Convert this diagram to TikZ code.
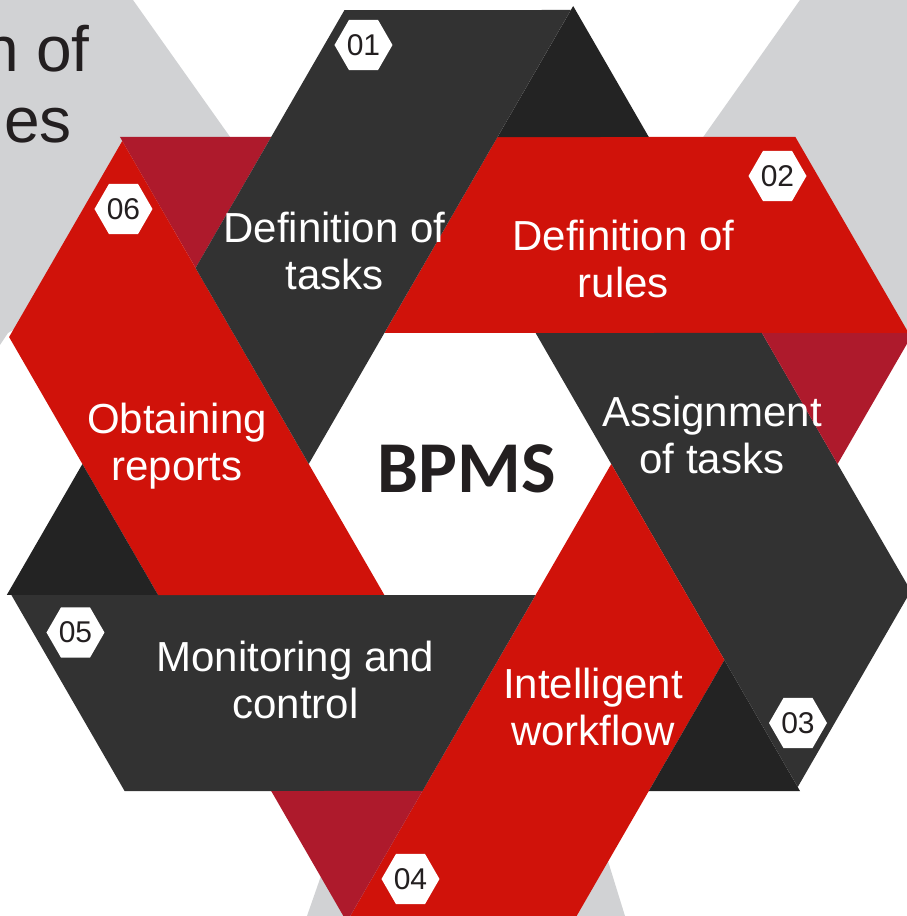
\documentclass[tikz,border=0pt]{standalone}
\usepackage{fontspec}
\setmainfont{Liberation Sans}
\newfontfamily\bpmsfont{Carlito}
\usetikzlibrary{shapes.geometric}
\definecolor{bandred}{HTML}{D0120A}
\definecolor{backred}{HTML}{AE1A2C}
\definecolor{banddark}{HTML}{323232}
\definecolor{backdark}{HTML}{232323}
\definecolor{slidegrey}{HTML}{D1D2D4}
\definecolor{inkgrey}{HTML}{231F20}

\begin{document}
\begin{tikzpicture}[x=1pt, y=1pt,
    bandtext/.style={text=white, align=center, inner sep=0pt, font=\fontsize{42}{47}\selectfont},
    badge/.style={regular polygon, regular polygon sides=6, minimum size=58pt, inner sep=0pt,
        fill=white, text=inkgrey, font=\fontsize{30}{30}\selectfont}]
    \useasboundingbox (-460,-452) rectangle (447,464);
    \clip (-460,-452) rectangle (447,464);
    \fill[white] (-460,-452) rectangle (447,464);
    
    % grey pieces of the slide behind
    \fill[slidegrey] (-460,464)--(-327,464)--(-215,306)--(-310,214)--(-452,131)--(-460,119)--cycle;
    \fill[slidegrey] (340,464)--(447,464)--(447,134)--(227,304)--cycle;
    \fill[slidegrey] (-153,-452)--(-109,-326)--(126,-326)--(165,-452)--cycle;
    \node[anchor=base east, inner sep=0pt, text=inkgrey, font=\fontsize{64}{64}\selectfont] (lineone) at (-370,392) {n of};
    \node[anchor=base east, inner sep=0pt, text=inkgrey, font=\fontsize{64}{64}\selectfont] (linetwo) at (-388,321) {es};
    
    % six bands round the hexagon, clockwise from the top one
    \foreach \ang/\main/\back in {0/bandred/backred, -60/banddark/backdark, -120/bandred/backred,
        -180/banddark/backdark, -240/bandred/backred, -300/banddark/backdark}
    {
        \begin{scope}[rotate=\ang]
            \fill[\back] (-188.8,327)--(-340,327)--(-264.4,196)--cycle;
            \fill[\main] (335.4,327)--(448.6,131)--(-75.6,131)--(37.5,327)--cycle;
        \end{scope}
    }
    
    \node[bandtext] (tasks) at (-125.5,213.5) {Definition of\\tasks};
    \node[bandtext] (rules) at (163.5,205) {Definition of\\rules};
    \node[bandtext] (assign) at (252,29) {Assignment\\of tasks};
    \node[bandtext] (workflow) at (133,-242.5) {Intelligent\\workflow};
    \node[bandtext] (monitor) at (-164.5,-216) {Monitoring and\\control};
    \node[bandtext] (reports) at (-283,18) {Obtaining\\reports};
    
    \node[text=inkgrey, inner sep=0pt, font=\bpmsfont\bfseries\fontsize{73}{73}\selectfont] (bpms) at (6.5,-4.5) {BPMS};
    
    \foreach \num/\pos in {01/{(-96.5,419)}, 02/{(317.5,288)}, 03/{(338,-259)},
        04/{(-49.5,-415)}, 05/{(-384.5,-168.5)}, 06/{(-336.5,255)}}
    {
        \node[badge] (step\num) at \pos {\num};
    }
\end{tikzpicture}
\end{document}
